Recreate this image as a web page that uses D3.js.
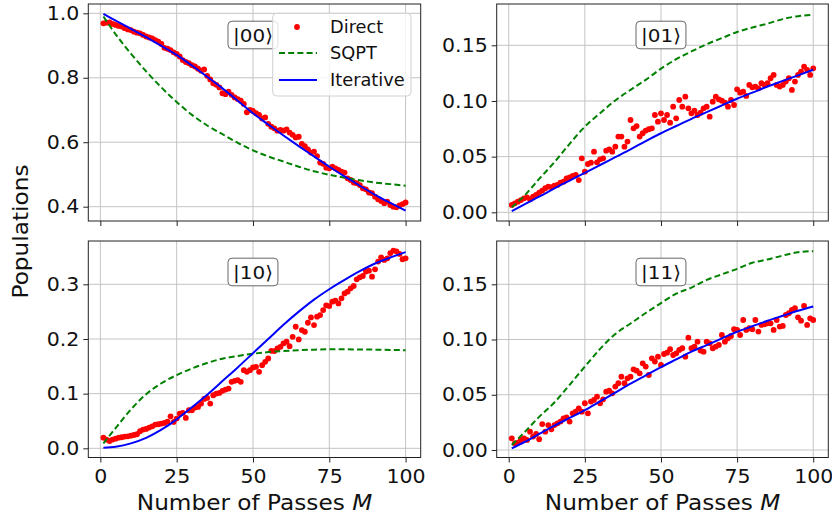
<!DOCTYPE html>
<html>
<head>
<meta charset="utf-8">
<script src="https://cdn.jsdelivr.net/npm/d3@7"></script>
<style>
  body { margin: 0; background: #fff; }
  text { font-family: "DejaVu Sans", sans-serif; }
</style>
</head>
<body>
<svg id="chart" width="832" height="518"></svg>
<script>
// ---- data ----
const passes = d3.range(1, 101); // M = 1..100
const linePasses = [1, 5, 10, 15, 20, 25, 30, 35, 40, 45, 50, 55, 60, 65, 70, 75, 80, 85, 90, 95, 100];

const direct00 = [
  0.969, 0.971, 0.972, 0.967, 0.964, 0.961, 0.959, 0.954, 0.950, 0.948,
  0.943, 0.940, 0.938, 0.933, 0.928, 0.925, 0.922, 0.917, 0.912, 0.905,
  0.893, 0.890, 0.886, 0.879, 0.874, 0.866, 0.855, 0.849, 0.845, 0.839,
  0.835, 0.828, 0.822, 0.826, 0.806, 0.795, 0.783, 0.778, 0.770, 0.752,
  0.749, 0.757, 0.747, 0.739, 0.734, 0.729, 0.719, 0.693, 0.700, 0.697,
  0.690, 0.685, 0.674, 0.677, 0.657, 0.648, 0.643, 0.636, 0.638, 0.636,
  0.640, 0.630, 0.623, 0.615, 0.617, 0.595, 0.588, 0.578, 0.568, 0.571,
  0.557, 0.537, 0.533, 0.521, 0.519, 0.524, 0.519, 0.514, 0.509, 0.506,
  0.488, 0.483, 0.475, 0.473, 0.467, 0.457, 0.454, 0.444, 0.442, 0.431,
  0.423, 0.418, 0.411, 0.416, 0.405, 0.400, 0.398, 0.404, 0.408, 0.413
];
const sqpt00 = [0.990, 0.935, 0.875, 0.820, 0.770, 0.725, 0.685, 0.652, 0.625, 0.598, 0.575,
  0.556, 0.540, 0.524, 0.510, 0.499, 0.490, 0.482, 0.475, 0.470, 0.465];
const iter00 = [0.998, 0.977, 0.952, 0.926, 0.899, 0.871, 0.838, 0.803, 0.767, 0.729, 0.690,
  0.655, 0.621, 0.588, 0.556, 0.524, 0.494, 0.465, 0.437, 0.412, 0.388];

const direct01 = [
  0.0066, 0.0081, 0.0096, 0.0110, 0.0126, 0.0135, 0.0117, 0.0141, 0.0156, 0.0177,
  0.0195, 0.0216, 0.0231, 0.0225, 0.0240, 0.0246, 0.0266, 0.0275, 0.0305, 0.0314,
  0.0326, 0.0335, 0.0290, 0.0485, 0.0365, 0.0434, 0.0446, 0.0545, 0.0449, 0.0476,
  0.0485, 0.0554, 0.0566, 0.0545, 0.0590, 0.0680, 0.0680, 0.0590, 0.0635, 0.0829,
  0.0754, 0.0775, 0.0680, 0.0710, 0.0734, 0.0746, 0.0754, 0.0874, 0.0814, 0.0889,
  0.0829, 0.0874, 0.0805, 0.0949, 0.0844, 0.1009, 0.0949, 0.1039, 0.0934, 0.0889,
  0.0913, 0.0874, 0.0895, 0.0934, 0.0949, 0.0859, 0.0994, 0.1039, 0.1015, 0.1003,
  0.0985, 0.0949, 0.1009, 0.0964, 0.1105, 0.1075, 0.1084, 0.1045, 0.1144, 0.1123,
  0.1129, 0.1114, 0.1159, 0.1144, 0.1159, 0.1204, 0.1234, 0.1144, 0.1129, 0.1144,
  0.1174, 0.1204, 0.1099, 0.1174, 0.1234, 0.1263, 0.1308, 0.1278, 0.1234, 0.1293
];
const sqpt01 = [0.0045, 0.0145, 0.0300, 0.0450, 0.0615, 0.0770, 0.0890, 0.1005, 0.1100, 0.1190, 0.1290,
  0.1375, 0.1445, 0.1510, 0.1565, 0.1620, 0.1660, 0.1695, 0.1735, 0.1762, 0.1775];
const iter01 = [0.0010, 0.0070, 0.0140, 0.0215, 0.0285, 0.0355, 0.0425, 0.0495, 0.0565, 0.0640, 0.0710,
  0.0775, 0.0840, 0.0900, 0.0960, 0.1020, 0.1075, 0.1130, 0.1180, 0.1230, 0.1280];

const direct10 = [
  0.0195, 0.0159, 0.0134, 0.0159, 0.0177, 0.0195, 0.0202, 0.0214, 0.0220, 0.0232,
  0.0244, 0.0257, 0.0312, 0.0342, 0.0354, 0.0379, 0.0403, 0.0434, 0.0440, 0.0452,
  0.0464, 0.0489, 0.0586, 0.0483, 0.0544, 0.0635, 0.0648, 0.0556, 0.0696, 0.0696,
  0.0745, 0.0757, 0.0819, 0.0904, 0.0922, 0.0819, 0.0971, 0.1002, 0.1014, 0.1051,
  0.1075, 0.1093, 0.1216, 0.1234, 0.1246, 0.1216, 0.1429, 0.1399, 0.1429, 0.1478,
  0.1491, 0.1399, 0.1521, 0.1582, 0.1643, 0.1784, 0.1778, 0.1826, 0.1857, 0.1918,
  0.1949, 0.1869, 0.2040, 0.2224, 0.1991, 0.2162, 0.2132, 0.2297, 0.2395, 0.2254,
  0.2407, 0.2437, 0.2529, 0.2615, 0.2602, 0.2682, 0.2700, 0.2651, 0.2743, 0.2834,
  0.2865, 0.2926, 0.2969, 0.3091, 0.3128, 0.3152, 0.3232, 0.3250, 0.3140, 0.3274,
  0.3415, 0.3494, 0.3445, 0.3476, 0.3568, 0.3616, 0.3604, 0.3555, 0.3458, 0.3476
];
const sqpt10 = [0.0090, 0.0370, 0.0710, 0.0990, 0.1190, 0.1340, 0.1460, 0.1560, 0.1640, 0.1690, 0.1730,
  0.1760, 0.1780, 0.1795, 0.1805, 0.1810, 0.1810, 0.1808, 0.1805, 0.1800, 0.1795];
const iter10 = [0.0010, 0.0030, 0.0090, 0.0190, 0.0340, 0.0530, 0.0750, 0.0980, 0.1230, 0.1480, 0.1740,
  0.2000, 0.2260, 0.2500, 0.2720, 0.2910, 0.3080, 0.3240, 0.3380, 0.3490, 0.3590];

const direct11 = [
  0.0106, 0.0060, 0.0066, 0.0091, 0.0106, 0.0091, 0.0166, 0.0121, 0.0145, 0.0097,
  0.0235, 0.0166, 0.0226, 0.0187, 0.0226, 0.0241, 0.0257, 0.0287, 0.0296, 0.0257,
  0.0332, 0.0347, 0.0377, 0.0347, 0.0423, 0.0332, 0.0438, 0.0453, 0.0483, 0.0423,
  0.0459, 0.0528, 0.0537, 0.0513, 0.0574, 0.0604, 0.0664, 0.0604, 0.0649, 0.0664,
  0.0730, 0.0718, 0.0694, 0.0785, 0.0755, 0.0679, 0.0830, 0.0800, 0.0845, 0.0770,
  0.0869, 0.0881, 0.0912, 0.0860, 0.0875, 0.0906, 0.0921, 0.0845, 0.1017, 0.0921,
  0.0936, 0.0981, 0.0900, 0.0890, 0.0981, 0.0966, 0.0921, 0.0936, 0.0951, 0.1041,
  0.0981, 0.1011, 0.1032, 0.1093, 0.1087, 0.1041, 0.1177, 0.1087, 0.1102, 0.1093,
  0.1177, 0.1072, 0.1132, 0.1138, 0.1147, 0.1147, 0.1087, 0.1177, 0.1117, 0.1123,
  0.1222, 0.1238, 0.1268, 0.1283, 0.1201, 0.1171, 0.1304, 0.1132, 0.1192, 0.1177
];
const sqpt11 = [0.0045, 0.0155, 0.0300, 0.0430, 0.0590, 0.0755, 0.0915, 0.1050, 0.1145, 0.1240, 0.1330,
  0.1415, 0.1470, 0.1540, 0.1590, 0.1640, 0.1695, 0.1725, 0.1760, 0.1790, 0.1800];
const iter11 = [0.0015, 0.0070, 0.0145, 0.0220, 0.0290, 0.0360, 0.0440, 0.0520, 0.0600, 0.0675, 0.0750,
  0.0820, 0.0890, 0.0950, 0.1010, 0.1070, 0.1120, 0.1170, 0.1215, 0.1260, 0.1300];

const stateLabels = ["|00⟩", "|01⟩", "|10⟩", "|11⟩"];
const yTicks = [[0.4, 0.6, 0.8, 1.0], [0, 0.05, 0.10, 0.15], [0, 0.1, 0.2, 0.3], [0, 0.05, 0.10, 0.15]];
const yFormats = [".1f", ".2f", ".1f", ".2f"];
const yDomains = [[0.3556, 1.0289], [-0.0078, 0.1871], [-0.0168, 0.3792], [-0.0068, 0.1892]];
const xTicks = [0, 25, 50, 75, 100];
const legendNames = ["Direct", "SQPT", "Iterative"];

// ---- layout ----
const svg = d3.select("#chart");
const cols = [[88.3, 420.7], [496.7, 828.3]];
const rows = [[4, 221], [241, 457.5]];
const RED = "#ff0000", GREEN = "#008000", BLUE = "#0000ff";
const tickFont = 19, labelFont = 21.5, legendFont = 17.8;
const stretch = "scale(1.08,1)"; // reference glyphs run a little wide

const panels = [
  { direct: direct00, sqpt: sqpt00, iter: iter00 },
  { direct: direct01, sqpt: sqpt01, iter: iter01 },
  { direct: direct10, sqpt: sqpt10, iter: iter10 },
  { direct: direct11, sqpt: sqpt11, iter: iter11 }
];

panels.forEach((p, i) => {
  const col = cols[i % 2], row = rows[Math.floor(i / 2)];
  const bottomRow = i >= 2;
  const x = d3.scaleLinear().domain([-3.95, 104.95]).range(col);
  const y = d3.scaleLinear().domain(yDomains[i]).range([row[1], row[0]]);
  const g = svg.append("g");

  // grid
  g.append("g").selectAll("line").data(xTicks).join("line")
    .attr("x1", d => x(d)).attr("x2", d => x(d))
    .attr("y1", row[0]).attr("y2", row[1])
    .attr("stroke", "#c4c4c4").attr("stroke-width", 1);
  g.append("g").selectAll("line").data(yTicks[i]).join("line")
    .attr("x1", col[0]).attr("x2", col[1])
    .attr("y1", d => y(d)).attr("y2", d => y(d))
    .attr("stroke", "#c4c4c4").attr("stroke-width", 1);

  // Direct
  g.append("g").selectAll("circle").data(p.direct).join("circle")
    .attr("cx", (d, k) => x(passes[k])).attr("cy", d => y(d))
    .attr("r", 2.9).attr("fill", RED);

  // SQPT + Iterative
  const line = vals => d3.line()
    .x((d, k) => x(linePasses[k])).y(d => y(d))
    .curve(d3.curveMonotoneX)(vals);
  g.append("path").attr("d", line(p.sqpt))
    .attr("fill", "none").attr("stroke", GREEN).attr("stroke-width", 2)
    .attr("stroke-dasharray", "6,3.2");
  g.append("path").attr("d", line(p.iter))
    .attr("fill", "none").attr("stroke", BLUE).attr("stroke-width", 2);

  // axes
  const xAxis = d3.axisBottom(x).tickValues(xTicks).tickSize(5).tickPadding(7.3)
    .tickFormat(bottomRow ? d3.format("d") : () => "");
  const ax = g.append("g").attr("transform", `translate(0,${row[1]})`).call(xAxis);
  const yAxis = d3.axisLeft(y).tickValues(yTicks[i]).tickSize(5).tickPadding(3.3)
    .tickFormat(d3.format(yFormats[i]));
  const ay = g.append("g").attr("transform", `translate(${col[0]},0)`).call(yAxis);
  [ax, ay].forEach(a => {
    a.select(".domain").remove();
    a.selectAll("line").attr("stroke", "#222");
    a.selectAll("text").attr("font-size", tickFont).attr("fill", "#111")
      .attr("font-family", "DejaVu Sans").attr("transform", stretch);
  });

  // frame
  g.append("rect").attr("x", col[0]).attr("y", row[0])
    .attr("width", col[1] - col[0]).attr("height", row[1] - row[0])
    .attr("fill", "none").attr("stroke", "#222").attr("stroke-width", 1);

  // state label box
  const lg = g.append("g").attr("transform", `translate(${x(50)},${row[0] + 31})`);
  const lt = lg.append("text").attr("text-anchor", "middle").attr("dy", "0.36em")
    .attr("font-size", 18.5).attr("fill", "#111").attr("transform", stretch)
    .text(stateLabels[i]);
  const bb = lt.node().getBBox();
  const w = bb.width * 1.08 + 10;
  lg.insert("rect", "text").attr("x", -w / 2).attr("y", -13.8)
    .attr("width", w).attr("height", 27.6).attr("rx", 4)
    .attr("fill", "#fff").attr("stroke", "#666").attr("stroke-width", 1);

  if (bottomRow) {
    const xl = g.append("text")
      .attr("transform", `translate(${(col[0] + col[1]) / 2},510) ${stretch}`)
      .attr("text-anchor", "middle").attr("font-size", labelFont).attr("fill", "#111");
    xl.append("tspan").text("Number of Passes ");
    xl.append("tspan").attr("font-style", "italic").text("M");
  }

  // legend in the first panel
  if (i === 0) {
    const leg = g.append("g");
    leg.append("rect").attr("x", 272.7).attr("y", 13.3).attr("width", 138.3).attr("height", 82.7)
      .attr("rx", 4).attr("fill", "#fff").attr("fill-opacity", 0.8)
      .attr("stroke", "#d0d0d0").attr("stroke-width", 1);
    const rowsY = [27, 53, 80];
    leg.append("circle").attr("cx", 297).attr("cy", rowsY[0]).attr("r", 2.9).attr("fill", RED);
    leg.append("line").attr("x1", 279).attr("x2", 317).attr("y1", rowsY[1]).attr("y2", rowsY[1])
      .attr("stroke", GREEN).attr("stroke-width", 2).attr("stroke-dasharray", "6,3.2");
    leg.append("line").attr("x1", 279).attr("x2", 317).attr("y1", rowsY[2]).attr("y2", rowsY[2])
      .attr("stroke", BLUE).attr("stroke-width", 2);
    leg.selectAll("text.lg").data(legendNames).join("text").attr("class", "lg")
      .attr("x", 330).attr("y", (d, k) => rowsY[k]).attr("dy", "0.36em")
      .attr("font-size", legendFont).attr("fill", "#111").text(d => d);
  }
});

svg.append("text").attr("transform", `translate(27.5,231.5) rotate(-90) ${stretch}`)
  .attr("text-anchor", "middle").attr("font-size", labelFont).attr("fill", "#111")
  .text("Populations");
</script>
</body>
</html>
